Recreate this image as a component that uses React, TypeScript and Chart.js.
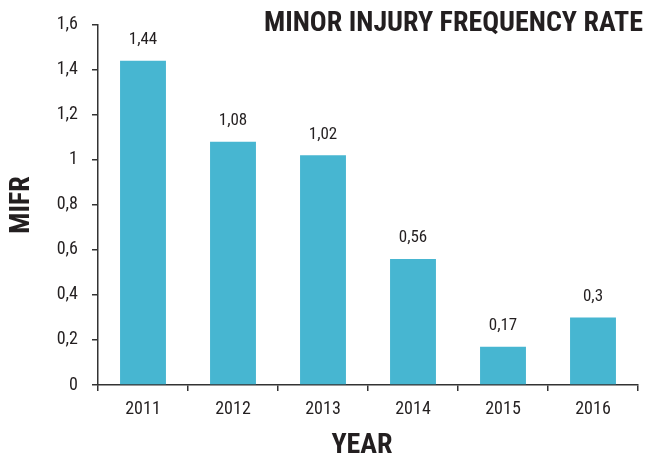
import React, { useEffect, useRef } from "react";
import { Chart, registerables } from "chart.js";

Chart.register(...registerables);

const years = ["2011", "2012", "2013", "2014", "2015", "2016"];
const mifr = [1.44, 1.08, 1.02, 0.56, 0.17, 0.3];
const valueLabels = ["1,44", "1,08", "1,02", "0,56", "0,17", "0,3"];
const chartTitle = "MINOR INJURY FREQUENCY RATE";
const yTitle = "MIFR";
const xTitle = "YEAR";

const FONT = "'Liberation Sans Narrow', 'Roboto Condensed', 'Arial Narrow', Roboto, sans-serif";
const BAR = "#47b6d1";
const INK = "#231f20";

const overlay = {
  id: "overlay",
  afterDatasetsDraw(chart: any) {
    const ctx = chart.ctx;
    const meta = chart.getDatasetMeta(0);
    ctx.save();
    ctx.fillStyle = INK;
    ctx.font = `17px ${FONT}`;
    ctx.textAlign = "center";
    ctx.textBaseline = "middle";
    meta.data.forEach((el: any, i: number) => {
      ctx.fillText(valueLabels[i], el.x, el.y - 21);
    });
    ctx.font = `bold 28px ${FONT}`;
    ctx.textAlign = "right";
    ctx.fillText(chartTitle, 643, 24);
    ctx.textAlign = "center";
    ctx.fillText(xTitle, 362, 446);
    ctx.translate(22, 205);
    ctx.rotate(-Math.PI / 2);
    ctx.fillText(yTitle, 0, 0);
    ctx.restore();
  },
};

export default function App() {
  const ref = useRef<HTMLCanvasElement>(null);
  useEffect(() => {
    const chart = new Chart(ref.current!, {
      type: "bar",
      data: {
        labels: years,
        datasets: [
          {
            data: mifr,
            backgroundColor: BAR,
            categoryPercentage: 1,
            barPercentage: 0.51,
          },
        ],
      },
      options: {
        animation: false,
        responsive: false,
        layout: { padding: { top: 22, right: 8, left: 0, bottom: 0 } },
        plugins: { legend: { display: false }, tooltip: { enabled: false }, title: { display: false } },
        scales: {
          x: {
            grid: { offset: true, drawOnChartArea: false, drawTicks: true, tickLength: 6, color: "#333", lineWidth: 1.5 },
            border: { display: true, color: "#333", width: 1.5 },
            ticks: { color: INK, font: { family: FONT, size: 18 }, padding: 8 },
            afterFit: (s: any) => { s.height = 75; },
          },
          y: {
            min: 0,
            max: 1.6,
            grid: { drawOnChartArea: false, drawTicks: true, tickLength: 6, color: "#333", lineWidth: 1.5 },
            border: { display: true, color: "#333", width: 1.5 },
            ticks: {
              stepSize: 0.2,
              color: INK,
              font: { family: FONT, size: 18 },
              padding: 14,
              callback: (v: any) => {
                const n = Math.round(Number(v) * 10) / 10;
                return String(n).replace(".", ",");
              },
            },
            afterFit: (s: any) => { s.width = 98; },
          },
        },
      },
      plugins: [overlay],
    });
    return () => chart.destroy();
  }, []);
  return (
    <div style={{ position: "fixed", left: 0, top: 0, width: 646, height: 460, background: "#fff" }}>
      <canvas ref={ref} width={646} height={460} />
    </div>
  );
}
